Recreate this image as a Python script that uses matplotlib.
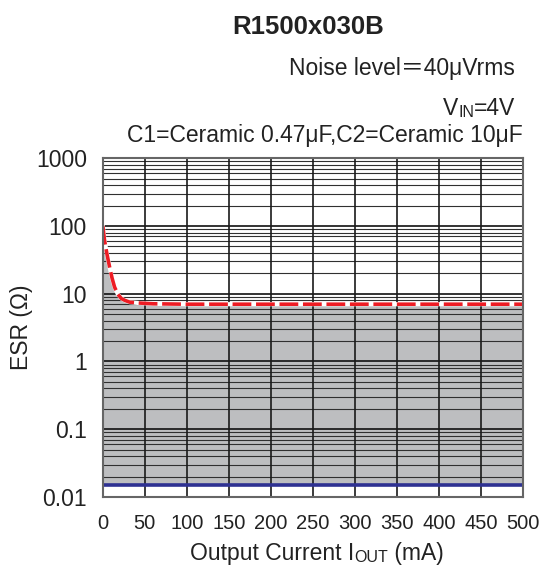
import numpy as np
import matplotlib
matplotlib.use('Agg')
import matplotlib.pyplot as plt

plt.rcParams['font.family'] = ['Liberation Sans', 'Noto Sans CJK JP', 'DejaVu Sans']

# Data
current_ma = [0, 2, 5, 8, 11, 14, 18, 22, 26, 32, 42, 60, 100, 200, 300, 400, 500]
esr_upper = [100, 62, 38, 25, 17, 12.5, 9.8, 8.5, 8.0, 7.5, 7.3, 7.1, 7.0, 7.0, 7.0, 7.0, 7.0]
esr_lower = 0.015
x_ticks = [0, 50, 100, 150, 200, 250, 300, 350, 400, 450, 500]
y_ticks = [0.01, 0.1, 1, 10, 100, 1000]
y_labels = ['0.01', '0.1', '1', '10', '100', '1000']

fig = plt.figure(figsize=(5.44, 5.67), dpi=100)
ax = fig.add_axes([0.189, 0.1235, 0.772, 0.5975])

# Stable region
ax.fill_between(current_ma, esr_lower, esr_upper, color='#bdbec0', lw=0, zorder=1)

# Grid
for d in [0.01, 0.1, 1, 10, 100]:
    for m in range(2, 10):
        ax.axhline(d * m, color='#303030', lw=0.8, zorder=2)
for d in y_ticks:
    ax.axhline(d, color='#111111', lw=1.2, zorder=2)
for x in x_ticks:
    ax.axvline(x, color='#1a1a1a', lw=1.2, zorder=2)

# Boundaries
ax.axhline(esr_lower, color='#2e3192', lw=2.6, zorder=4)
ax.plot(current_ma, esr_upper, color='white', lw=3.0, zorder=4)
ax.plot(current_ma, esr_upper, color='#ed1c24', lw=2.6, dashes=(5.2, 1.3), zorder=5)

ax.set_yscale('log')
ax.set_xlim(0, 500)
ax.set_ylim(0.01, 1000)
ax.set_xticks(x_ticks)
ax.set_xticklabels([str(v) for v in x_ticks], fontsize=14.5, color='#222222')
ax.set_yticks(y_ticks)
ax.set_yticklabels(y_labels, fontsize=16.5, color='#222222')
ax.yaxis.set_minor_locator(matplotlib.ticker.NullLocator())
ax.tick_params(axis='x', length=0, pad=12)
ax.tick_params(axis='y', length=0, pad=11.5)
for s in ax.spines.values():
    s.set_color('#666666')
    s.set_linewidth(1.5)
    s.set_zorder(6)

fig.text(0.040, 0.423, 'ESR (Ω)', fontsize=16.5, color='#222222', rotation=90,
         ha='center', va='center')

# Title and notes
fig.text(0.567, 0.952, 'R1500x030B', fontsize=18.5, fontweight='bold',
         ha='center', va='center', color='#222222')
fig.text(0.947, 0.879, 'Noise level＝40μVrms', fontsize=16.5,
         ha='right', va='center', color='#222222')
t1 = fig.text(0.947, 0.797, '=4V', fontsize=16.5, ha='right', va='baseline', color='#222222')
t2 = ax.annotate('IN', xy=(0, 0), xycoords=t1, fontsize=11.5, ha='right', va='bottom',
                 color='#222222', annotation_clip=False)
ax.annotate('V', xy=(0, 0), xycoords=t2, fontsize=16.5, ha='right', va='bottom',
            color='#222222', annotation_clip=False)
fig.text(0.961, 0.750, 'C1=Ceramic 0.47μF,C2=Ceramic 10μF', fontsize=16.5,
         ha='right', va='baseline', color='#222222')

# X label with small-caps style subscript
x1 = fig.text(0.651, 0.013, 'Output Current I', fontsize=16.5, ha='right',
              va='baseline', color='#222222')
x2 = ax.annotate('OUT', xy=(1, 0), xycoords=x1, fontsize=11.5, ha='left', va='bottom',
                 color='#222222', annotation_clip=False)
ax.annotate(' (mA)', xy=(1, 0), xycoords=x2, fontsize=16.5, ha='left', va='bottom',
            color='#222222', annotation_clip=False)

fig.savefig('out.png', dpi=100)
